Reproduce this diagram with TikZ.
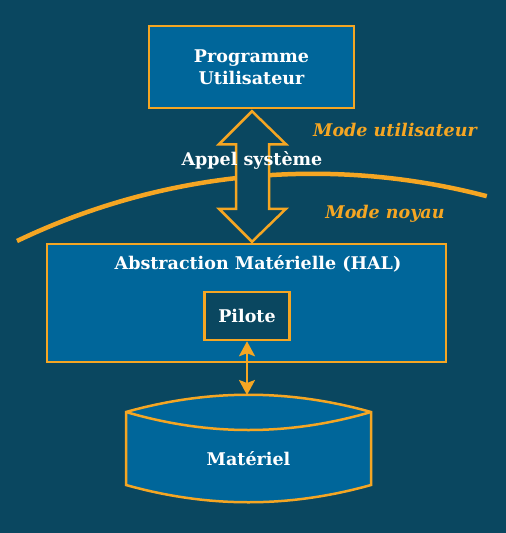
\documentclass[tikz,border=0pt]{standalone}
\usepackage{fontspec}
\setmainfont{DejaVu Serif}
\usetikzlibrary{arrows.meta,calc}
\definecolor{bgc}{HTML}{0A4760}
\definecolor{boxc}{HTML}{00669A}
\definecolor{orc}{HTML}{F5A623}
\newcommand{\lblfont}{\bfseries\fontsize{17.5}{22}\selectfont}
\begin{document}
\begin{tikzpicture}[x=1pt,y=-1pt,
  box/.style={draw=orc, line width=2.5pt, fill=boxc, text=white, font=\lblfont, align=center, inner sep=0pt},
  wtext/.style={text=white, font=\lblfont, inner sep=0pt},
  modetext/.style={text=orc, font=\bfseries\itshape\fontsize{17.5}{22}\selectfont, inner sep=0pt},
  conn/.style={draw=orc, line width=2.5pt},
  tip/.tip={Stealth[length=15pt,width=16pt,inset=3pt]}
]
\fill[bgc] (0,0) rectangle (506,533);
\useasboundingbox (0,0) rectangle (506,533);

% nodes
\node[box, minimum width=205pt, minimum height=82pt] (prog) at (251.5,67) {Programme\\Utilisateur};
\node[box, minimum width=399pt, minimum height=118pt] (hal) at (246.5,303) {};
\node[wtext] (haltitle) at (258,264) {Abstraction Matérielle (HAL)};
\node[box, fill=bgc, minimum width=85pt, minimum height=48pt] (pilote) at (247,316) {Pilote};

% boundary curve
\draw[orc, line width=4.5pt] (17,241) arc[start angle=-115.6, end angle=-75.3, radius=685];

% big double arrow (system call)
\coordinate (at) at ($(prog.south)+(0.5,2)$);
\coordinate (ab) at ($(hal.north)+(5.5,-1)$);
\draw[conn, fill=bgc, line join=miter]
  (at) -- ($(at)+(34,33)$) -- ($(at)+(17,33)$) -- ($(ab)+(17,-33)$) -- ($(ab)+(34,-33)$)
  -- (ab) -- ($(ab)+(-33,-33)$) -- ($(ab)+(-16,-33)$) -- ($(at)+(-16,33)$) -- ($(at)+(-33,33)$) -- cycle;
\node[wtext] (appel) at (252,160) {Appel système};

\node[modetext] (modeu) at (395,130) {Mode utilisateur};
\node[modetext] (moden) at (385,214) {Mode noyau};

% hardware cylinder
\draw[orc, line width=2.5pt, fill=boxc]
  (126,412) .. controls (208,389) and (289,389) .. (371,412) -- (371,485)
  .. controls (289,508) and (208,508) .. (126,485) -- cycle;
\draw[orc, line width=2.5pt] (126,412) .. controls (208,436) and (289,436) .. (371,412);
\coordinate (mattop) at (247,395);
\node[wtext] (mat) at (248.5,459) {Matériel};

% driver <-> hardware
\draw[conn, tip-tip] (pilote.south) -- (mattop);
\end{tikzpicture}
\end{document}
